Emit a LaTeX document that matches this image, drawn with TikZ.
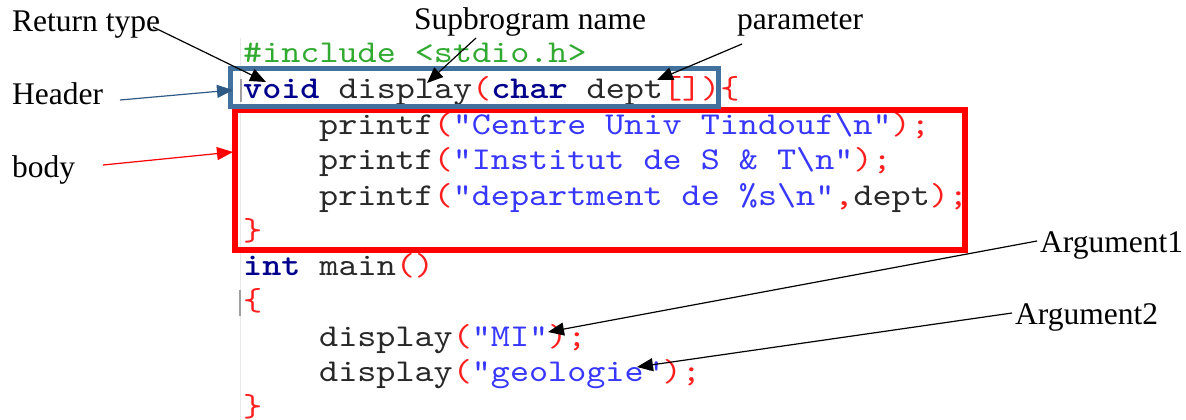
\documentclass[tikz,border=0pt]{standalone}
\usepackage{fontspec}
\setmainfont{Liberation Serif}
% slab-serif typewriter face, widened to a 0.6em advance
\newfontfamily\codefont{lmmono10-regular.otf}[BoldFont=lmmonolt10-bold.otf, FakeStretch=1.143]
\usetikzlibrary{arrows.meta}

\definecolor{codegreen}{RGB}{50,170,50}
\definecolor{codenavy}{RGB}{0,0,140}
\definecolor{codered}{RGB}{255,30,30}
\definecolor{codeblue}{RGB}{55,55,255}
\definecolor{codedark}{RGB}{40,40,40}
\definecolor{boxblue}{RGB}{65,113,156}
\definecolor{headerarrow}{RGB}{47,90,133}
\definecolor{boxred}{RGB}{255,0,0}

% syntax colouring helpers
\newcommand\kw[1]{\textcolor{codenavy}{\bfseries #1}}
\newcommand\pun[1]{\textcolor{codered}{#1}}
\newcommand\strg[1]{\textcolor{codeblue}{#1}}

\begin{document}
\begin{tikzpicture}[x=1pt,y=-1pt,
  lbl/.style={font=\fontsize{31.5}{36}\selectfont, inner sep=0pt, anchor=base west},
  code/.style={font=\codefont\fontsize{31.8}{35}\selectfont, inner sep=0pt, anchor=base west, text=codedark},
  pointer/.style={-{Triangle[length=16pt,width=13pt]}, line width=1.2pt, black},
  hdrbox/.style={draw=boxblue, line width=5pt},
  bodybox/.style={draw=boxred, line width=6pt}]

\useasboundingbox (0,0) rectangle (1186,420);

% editor gutter
\draw[gray!18, line width=1pt] (240,38) -- (240,420);
\draw[gray!75, line width=1.2pt] (241,79) -- (241,102);
\draw[gray!75, line width=1.2pt] (240,290) -- (240,316);

% source code
\node[code] (l0) at (243,63)  {\textcolor{codegreen}{\#include <stdio.h>}};
\node[code] (l1) at (243,98)  {\kw{void} display\pun{(}\kw{char} dept\pun{[])}\pun{\{}};
\node[code] (l2) at (319,134) {printf\pun{(}\strg{"Centre Univ Tindouf\textbackslash n"}\pun{);}};
\node[code] (l3) at (319,169.5) {printf\pun{(}\strg{"Institut de S \& T\textbackslash n"}\pun{);}};
\node[code] (l4) at (319,205) {printf\pun{(}\strg{"department de \%s\textbackslash n"}\pun{,}dept\pun{);}};
\node[code] (l5) at (243,240) {\pun{\}}};
\node[code] (l6) at (243,275) {\kw{int} main\pun{()}};
\node[code] (l7) at (243,310) {\pun{\{}};
\node[code] (l8) at (319,346) {display\pun{(}\strg{"MI"}\pun{);}};
\node[code] (l9) at (319,381) {display\pun{(}\strg{"geologie"}\pun{);}};
\node[code] (l10) at (243,416) {\pun{\}}};

% header and body frames
\draw[bodybox] (234.5,110) rectangle (965,249.5);
\draw[hdrbox] (230,69) rectangle (718,106);

% labels
\node[lbl] (rettype) at (12,32)   {Return type};
\node[lbl] (subname) at (414,30)  {Supbrogram name};
\node[lbl] (param)   at (737,30)  {parameter};
\node[lbl] (header)  at (12,104)  {Header};
\node[lbl] (body)    at (12,177)  {body};
\node[lbl] (arg1)    at (1040,252) {Argument1};
\node[lbl] (arg2)    at (1015,324) {Argument2};

% pointer ends
\coordinate (rtS) at (153,27);   \coordinate (rtT) at (266,82);
\coordinate (snS) at (476,38);   \coordinate (snT) at (427,83);
\coordinate (paS) at (742,44);   \coordinate (paT) at (657,80);
\coordinate (hdS) at (120,100);  \coordinate (hdT) at (233,90);
\coordinate (bdS) at (103,165);  \coordinate (bdT) at (233,152);
\coordinate (a1S) at (1037,241); \coordinate (a1T) at (548,332);
\coordinate (a2S) at (1012,313); \coordinate (a2T) at (637,367);

% pointers
\draw[pointer] (rtS) -- (rtT);
\draw[pointer] (snS) -- (snT);
\draw[pointer] (paS) -- (paT);
\draw[pointer, headerarrow] (hdS) -- (hdT);
\draw[pointer, boxred] (bdS) -- (bdT);
\draw[pointer] (a1S) -- (a1T);
\draw[pointer] (a2S) -- (a2T);
\end{tikzpicture}
\end{document}
